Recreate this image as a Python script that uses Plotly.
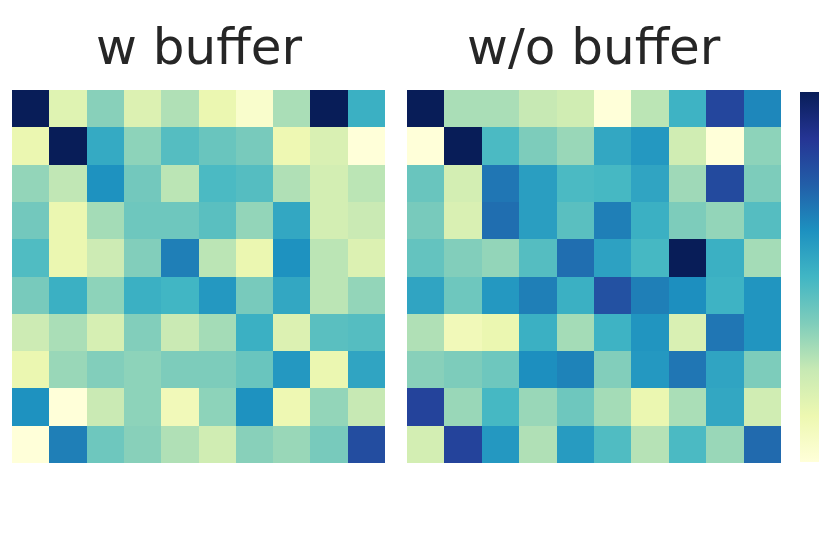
import plotly.graph_objects as go

# Similarity matrices (row 0 = top row)
with_buffer = [
    [1.00, 0.17, 0.36, 0.18, 0.29, 0.13, 0.04, 0.30, 1.00, 0.52],
    [0.13, 1.00, 0.54, 0.35, 0.46, 0.42, 0.39, 0.12, 0.19, 0.00],
    [0.34, 0.26, 0.62, 0.40, 0.27, 0.48, 0.46, 0.29, 0.21, 0.27],
    [0.40, 0.13, 0.31, 0.41, 0.41, 0.45, 0.34, 0.55, 0.21, 0.24],
    [0.47, 0.13, 0.23, 0.37, 0.67, 0.27, 0.13, 0.62, 0.27, 0.18],
    [0.39, 0.52, 0.35, 0.52, 0.50, 0.60, 0.39, 0.55, 0.27, 0.34],
    [0.23, 0.30, 0.20, 0.37, 0.24, 0.31, 0.52, 0.18, 0.45, 0.46],
    [0.13, 0.33, 0.37, 0.35, 0.38, 0.38, 0.42, 0.60, 0.13, 0.56],
    [0.62, 0.00, 0.24, 0.35, 0.10, 0.35, 0.62, 0.12, 0.34, 0.25],
    [0.00, 0.67, 0.41, 0.36, 0.29, 0.22, 0.36, 0.33, 0.39, 0.80],
]

without_buffer = [
    [1.00, 0.30, 0.30, 0.25, 0.22, 0.00, 0.27, 0.51, 0.82, 0.65],
    [0.00, 1.00, 0.48, 0.38, 0.33, 0.55, 0.60, 0.22, 0.00, 0.35],
    [0.42, 0.21, 0.69, 0.58, 0.48, 0.49, 0.56, 0.32, 0.81, 0.38],
    [0.39, 0.19, 0.71, 0.58, 0.45, 0.67, 0.52, 0.38, 0.34, 0.46],
    [0.43, 0.37, 0.34, 0.46, 0.71, 0.57, 0.49, 1.00, 0.52, 0.31],
    [0.56, 0.41, 0.60, 0.67, 0.52, 0.79, 0.67, 0.63, 0.51, 0.61],
    [0.29, 0.10, 0.13, 0.52, 0.31, 0.51, 0.61, 0.19, 0.69, 0.61],
    [0.36, 0.38, 0.41, 0.63, 0.66, 0.37, 0.60, 0.69, 0.56, 0.38],
    [0.83, 0.33, 0.49, 0.33, 0.41, 0.31, 0.13, 0.30, 0.55, 0.22],
    [0.21, 0.83, 0.60, 0.29, 0.59, 0.47, 0.28, 0.48, 0.33, 0.72],
]

titles = ["w buffer", "w/o buffer"]

# matplotlib / seaborn YlGnBu
ylgnbu = [
    [0.0, "#ffffd9"], [0.125, "#edf8b1"], [0.25, "#c7e9b4"],
    [0.375, "#7fcdbb"], [0.5, "#41b6c4"], [0.625, "#1d91c0"],
    [0.75, "#225ea8"], [0.875, "#253494"], [1.0, "#081d58"],
]

# the page body has an 8px margin, so the figure is shrunk and shifted
OFF = 8
W, H = 830 - OFF, 554 - OFF

def px_x(v):
    return (v - OFF) / W

def px_y(v):
    return 1 - (v - OFF) / H

fig = go.Figure()

fig.add_trace(go.Heatmap(
    z=with_buffer, colorscale=ylgnbu, zmin=0, zmax=1,
    xaxis="x", yaxis="y", showscale=False,
))
fig.add_trace(go.Heatmap(
    z=without_buffer, colorscale=ylgnbu, zmin=0, zmax=1,
    xaxis="x2", yaxis="y2", showscale=True,
    colorbar=dict(
        x=px_x(800), xanchor="left", xpad=0,
        y=px_y(277), yanchor="middle", ypad=0,
        thickness=19, thicknessmode="pixels",
        len=370, lenmode="pixels",
        outlinewidth=0, ticks="", showticklabels=False,
    ),
))

axis_common = dict(showgrid=False, zeroline=False, showticklabels=False, ticks="", showline=False)
fig.update_layout(
    width=W, height=H,
    margin=dict(l=0, r=0, t=0, b=0),
    paper_bgcolor="white", plot_bgcolor="white",
    font=dict(family="DejaVu Sans", color="#262626"),
    xaxis=dict(domain=[px_x(12), px_x(385)], **axis_common),
    yaxis=dict(domain=[px_y(463), px_y(90)], autorange="reversed", **axis_common),
    xaxis2=dict(domain=[px_x(407), px_x(781)], **axis_common),
    yaxis2=dict(domain=[px_y(463), px_y(90)], autorange="reversed", **axis_common),
)

for ax, title in zip(["x", "x2"], titles):
    fig.add_annotation(
        text=title, xref=f"{ax} domain", yref="paper",
        x=0.5, y=px_y(47), xanchor="center", yanchor="middle",
        showarrow=False, font=dict(size=50, color="#262626"),
    )

fig.write_html("out.html")
